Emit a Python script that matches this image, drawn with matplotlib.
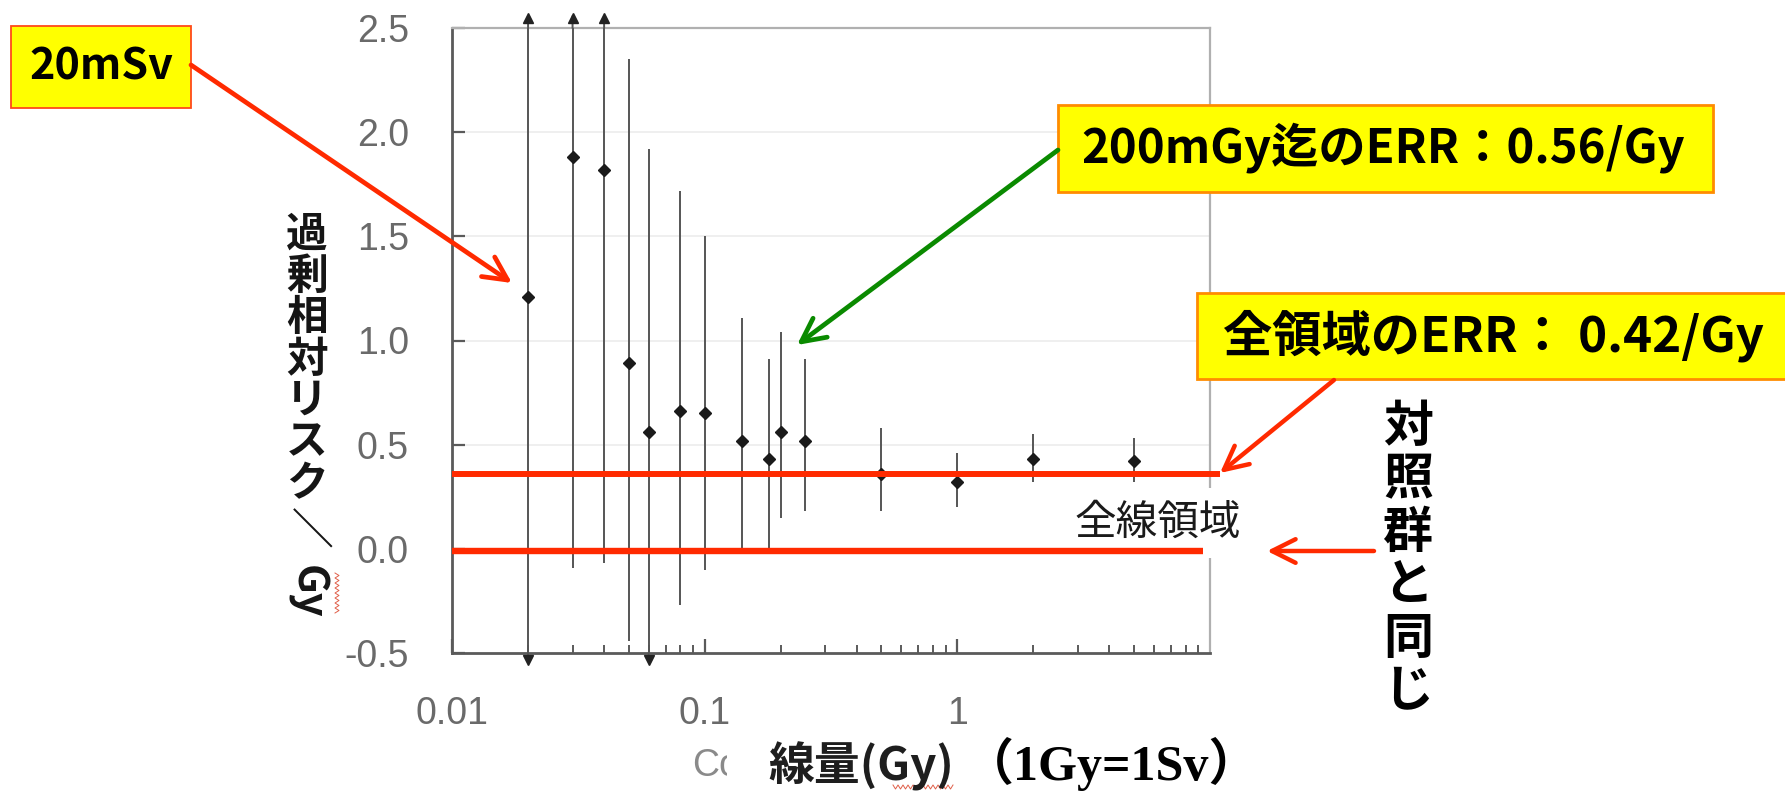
import matplotlib
matplotlib.use("Agg")
import matplotlib.pyplot as plt
import numpy as np
from matplotlib import transforms as mtransforms
from matplotlib.patches import Rectangle, FancyArrowPatch
from matplotlib.lines import Line2D
from matplotlib.ticker import FixedLocator, NullFormatter

# ---------------- data ----------------
dose = [0.02, 0.03, 0.04, 0.05, 0.06, 0.08, 0.1, 0.14, 0.18, 0.2, 0.25, 0.5, 1.0, 2.0, 5.0]
err_per_gy = [1.21, 1.88, 1.82, 0.89, 0.56, 0.66, 0.65, 0.52, 0.43, 0.56, 0.52, 0.36, 0.32, 0.43, 0.42]
# None = off the scale (drawn as an arrow at the axis edge)
ci_low = [None, -0.09, -0.07, -0.44, None, -0.27, -0.10, 0.00, 0.00, 0.15, 0.18, 0.18, 0.20, 0.32, 0.32]
ci_high = [None, None, None, 2.35, 1.92, 1.72, 1.50, 1.11, 0.91, 1.04, 0.91, 0.58, 0.46, 0.55, 0.53]

whole_range_line = 0.36
control_line = -0.01

y_ticks = [-0.5, 0.0, 0.5, 1.0, 1.5, 2.0, 2.5]
y_ticklabels = ["-0.5", "0.0", "0.5", "1.0", "1.5", "2.0", "2.5"]
x_ticks = [0.01, 0.1, 1]
x_ticklabels = ["0.01", "0.1", "1"]
x_minor = [k * 10.0 ** e for e in (-2, -1, 0) for k in range(2, 10)] + [10]

ylabel_chars = ["過", "剰", "相", "対", "リ", "ス", "ク"]
ylabel_tail = ["／", "Gy"]
side_note = ["対", "照", "群", "と", "同", "じ"]

# ---------------- figure ----------------
W, H = 1785, 793
fig = plt.figure(figsize=(W / 100, H / 100), dpi=100)
fig.patch.set_facecolor("white")

def fx(x):
    return x / W

def fy(y):
    return 1 - y / H

ax = fig.add_axes([fx(452), fy(653), fx(1210) - fx(452), fy(28) - fy(653)])
ax.set_xscale("log")
ax.set_xlim(0.01, 10)
ax.set_ylim(-0.5, 2.5)

CJK = "Noto Sans CJK JP"
tickfont = "Liberation Sans"

# grid
for yv in y_ticks[1:-1]:
    ax.axhline(yv, color="#ececec", lw=1.2, zorder=0)

# spines
for s in ("left", "bottom"):
    ax.spines[s].set_color("#5a5a5a")
    ax.spines[s].set_linewidth(2.0)
for s in ("top", "right"):
    ax.spines[s].set_color("#b0b0b0")
    ax.spines[s].set_linewidth(1.6)

ax.yaxis.set_major_locator(FixedLocator(y_ticks))
ax.set_yticklabels(y_ticklabels)
ax.xaxis.set_major_locator(FixedLocator(x_ticks))
ax.set_xticklabels(x_ticklabels)
ax.xaxis.set_minor_locator(FixedLocator(x_minor))
ax.xaxis.set_minor_formatter(NullFormatter())
ax.tick_params(axis="both", which="major", direction="in", length=9, width=1.6,
               color="#5a5a5a", labelsize=27, labelcolor="#6a6a6a", pad=31)
ax.tick_params(axis="x", which="minor", direction="in", length=6, width=1.4, color="#5a5a5a")
ax.tick_params(axis="x", which="major", length=10)
ax.tick_params(right=False, top=False)
for lab in ax.get_xticklabels() + ax.get_yticklabels():
    lab.set_fontfamily(tickfont)

# error bars
ylo, yhi = ax.get_ylim()
lows = [l if l is not None else ylo for l in ci_low]
highs = [h if h is not None else yhi for h in ci_high]
ax.vlines(dose, lows, highs, color="#555555", lw=1.4, zorder=3, clip_on=False)
ax.plot(dose, err_per_gy, ls="none", marker="D", ms=6.5, color="#1a1a1a", zorder=4)

up_x = [d for d, h in zip(dose, ci_high) if h is None]
dn_x = [d for d, l in zip(dose, ci_low) if l is None]
up_tr = mtransforms.offset_copy(ax.transData, fig=fig, x=0, y=10, units="dots")
dn_tr = mtransforms.offset_copy(ax.transData, fig=fig, x=0, y=-7, units="dots")
ax.plot(up_x, [yhi] * len(up_x), ls="none", marker="^", ms=7, color="#222222",
        transform=up_tr, clip_on=False, zorder=5)
ax.plot(dn_x, [ylo] * len(dn_x), ls="none", marker="v", ms=7, color="#222222",
        transform=dn_tr, clip_on=False, zorder=5)
# short stems joining arrows to the axis edge
for xv in up_x:
    ax.annotate("", xy=(xv, yhi), xytext=(0, 12), textcoords="offset pixels",
                xycoords="data", arrowprops=dict(arrowstyle="-", color="#555555", lw=1.4,
                                                 shrinkA=0, shrinkB=0), annotation_clip=False)
for xv in dn_x:
    ax.annotate("", xy=(xv, ylo), xytext=(0, -8), textcoords="offset pixels",
                xycoords="data", arrowprops=dict(arrowstyle="-", color="#555555", lw=1.4,
                                                 shrinkA=0, shrinkB=0), annotation_clip=False)

# ---------------- text on the plot ----------------
# "全線領域" with white background (covers right spine)
fig.text(fx(1158), fy(523), "全線領域", ha="center", va="center", fontsize=30,
         family=CJK, color="#1a1a1a", zorder=3,
         bbox=dict(boxstyle="square,pad=0.35", fc="white", ec="none"))

# red reference lines (drawn over the white label box)
blend = mtransforms.blended_transform_factory(ax.transAxes, ax.transData)
red = "#ff2a00"
fig.add_artist(Line2D([0, 1.013], [whole_range_line] * 2, transform=blend, color=red,
                      lw=4.3, solid_capstyle="butt", zorder=6))
fig.add_artist(Line2D([0, 0.991], [control_line] * 2, transform=blend, color=red,
                      lw=4.6, solid_capstyle="butt", zorder=6))

# axis labels
ylab_x = 307
ys = [235 + 41.5 * i for i in range(len(ylabel_chars))]
for ch, yv in zip(ylabel_chars, ys):
    fig.text(fx(ylab_x), fy(yv), ch, ha="center", va="center", fontsize=30,
             family=CJK, weight="bold", color="#151515")
fig.text(fx(ylab_x), fy(528), ylabel_tail[0], ha="center", va="center", fontsize=30,
         family=CJK, weight="bold", color="#151515", rotation=-90)
fig.text(fx(ylab_x), fy(592), ylabel_tail[1], ha="center", va="center", fontsize=30,
         family=CJK, weight="bold", color="#151515", rotation=-90)

# spell-check squiggles (decoration seen in the picture)
def squiggle(x0, y0, length, vertical):
    t = np.linspace(0, length, int(length / 2.5) + 1)
    w = 2.0 * ((np.arange(len(t)) % 2) * 2 - 1)
    if vertical:
        xs, ys_ = x0 + w, y0 + t
    else:
        xs, ys_ = x0 + t, y0 + w
    fig.add_artist(Line2D(fx(xs), fy(ys_), transform=fig.transFigure, color="#e0604a",
                          lw=0.7, zorder=2))

squiggle(337, 573, 40, True)
squiggle(893, 787, 60, False)

t_co = fig.text(fx(692), fy(766), "Co", ha="left", va="center", fontsize=27,
                family=tickfont, color="#8a8a8a")
clip = mtransforms.TransformedBbox(mtransforms.Bbox([[fx(680), fy(793)], [fx(727), fy(740)]]),
                                   fig.transFigure)
t_co.set_clip_box(clip)
t_co.set_clip_on(True)

fig.text(fx(768), fy(766), "線量(Gy)", ha="left", va="center", fontsize=33,
         family=CJK, weight="bold", color="#1e1e1e")
fig.text(fx(1112), fy(764), "（1Gy=1Sv）", ha="center", va="center", fontsize=36,
         family=["Liberation Serif", CJK], weight="bold", color="black")

# ---------------- call-out boxes ----------------
def box(x0, y0, x1, y1, ec, lw):
    fig.add_artist(Rectangle((fx(x0), fy(y1)), fx(x1) - fx(x0), fy(y0) - fy(y1),
                             transform=fig.transFigure, fc="#ffff00", ec=ec, lw=lw, zorder=7))

box(11, 26, 191, 108, "#ff4a1a", 1.3)
fig.text(fx(101), fy(67), "20mSv", ha="center", va="center", fontsize=31,
         family=CJK, weight="bold", color="black", zorder=8)

box(1058, 105, 1713, 192, "#ff8c00", 2.0)
fig.text(fx(1383), fy(148), "200mGy迄のERR：0.56/Gy", ha="center", va="center",
         fontsize=34, family=CJK, weight="bold", color="black", zorder=8)

box(1197, 293, 1800, 379, "#ff8c00", 2.0)
fig.text(fx(1223), fy(336), "全領域のERR： 0.42/Gy", ha="left", va="center",
         fontsize=35.5, family=CJK, weight="bold", color="black", zorder=8)

# vertical side note
for i, ch in enumerate(side_note):
    fig.text(fx(1408), fy(427 + 53 * i), ch, ha="center", va="center", fontsize=36,
             family=CJK, weight="bold", color="black")

# ---------------- arrows ----------------
def arrow(p0, p1, color, lw):
    fig.add_artist(FancyArrowPatch((fx(p0[0]), fy(p0[1])), (fx(p1[0]), fy(p1[1])),
                                   transform=fig.transFigure,
                                   arrowstyle="->,head_length=17,head_width=8.5",
                                   mutation_scale=1, color=color, lw=lw,
                                   shrinkA=0, shrinkB=0, zorder=9,
                                   joinstyle="round", capstyle="round"))

arrow((191, 65), (512, 283), red, 3.4)
arrow((1058, 150), (797, 345), "#0a8a00", 3.4)
arrow((1334, 380), (1220, 473), red, 3.2)
arrow((1374, 551), (1267, 551), red, 3.2)

fig.savefig("out.png", dpi=100, facecolor="white")
